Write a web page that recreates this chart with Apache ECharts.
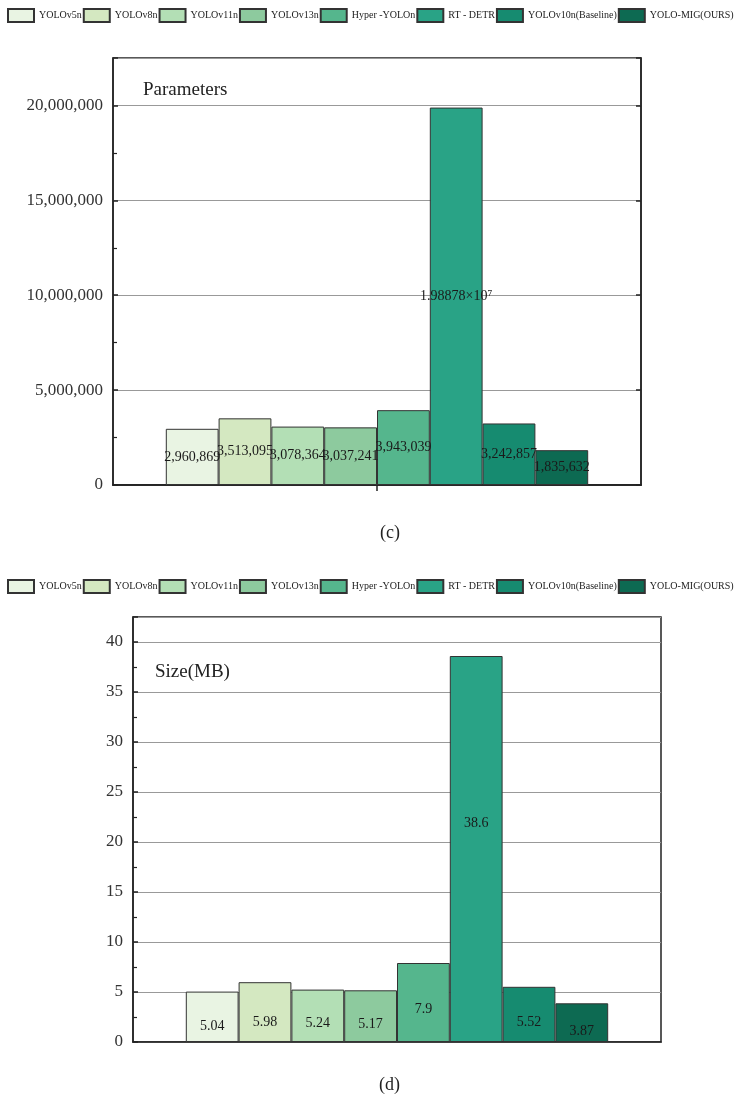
<!DOCTYPE html>
<html>
<head>
<meta charset="utf-8">
<script src="https://cdn.jsdelivr.net/npm/echarts@6/dist/echarts.min.js"></script>
<style>
  html, body { margin: 0; padding: 0; background: #fff; }
  #main { width: 738px; height: 1098px; }
</style>
</head>
<body>
<div id="main"></div>
<script>
const models = ['YOLOv5n', 'YOLOv8n', 'YOLOv11n', 'YOLOv13n', 'Hyper -YOLOn', 'RT - DETR', 'YOLOv10n(Baseline)', 'YOLO-MIG(OURS)']
const paramValues = [2960869, 3513095, 3078364, 3037241, 3943039, 19887800, 3242857, 1835632]
const sizeValues = [5.04, 5.98, 5.24, 5.17, 7.9, 38.6, 5.52, 3.87]

const colors = ['#e9f4e3', '#d4e8c1', '#b3dfb5', '#8dca9e', '#55b68d', '#29a386', '#168b70', '#0d6a52']
// small vertical nudges of the (d) labels, as in the figure
const sizeLabelShift = [10, 10, 8, 8, 7, -26, 8, 9]

const serif = '"Liberation Serif", "DejaVu Serif", serif'

function withCommas(v){
    return String(v).replace(/\B(?=(\d{3})+(?!\d))/g, ',')
}

function paramLabel(v){
    if (v >= 1e7) {
        return (v / 1e7).toFixed(5) + '×10⁷'
    }
    return withCommas(v)
}

const chart = echarts.init(document.getElementById('main'), null, { renderer: 'canvas' })

let series = []
models.forEach((name, i) => {
    series.push({
        name: name,
        type: 'bar',
        xAxisIndex: 0,
        yAxisIndex: 0,
        barGap: '0%',
        barCategoryGap: '20%',
        itemStyle: { color: colors[i], borderColor: '#333', borderWidth: 1 },
        label: {
            show: true,
            position: 'inside',
            color: '#1a1a1a',
            fontFamily: serif,
            fontSize: 14,
            formatter: p => paramLabel(p.value)
        },
        data: [paramValues[i]]
    })
})
models.forEach((name, i) => {
    series.push({
        name: name,
        type: 'bar',
        xAxisIndex: 2,
        yAxisIndex: 2,
        barGap: '0%',
        barCategoryGap: '20%',
        itemStyle: { color: colors[i], borderColor: '#333', borderWidth: 1 },
        label: {
            show: true,
            position: 'inside',
            offset: [0, sizeLabelShift[i]],
            color: '#1a1a1a',
            fontFamily: serif,
            fontSize: 14
        },
        data: [sizeValues[i]]
    })
})

const legendBase = {
    data: models,
    left: 7,
    width: 800,
    padding: 0,
    itemWidth: 26,
    itemHeight: 13,
    itemGap: 1,
    icon: 'rect',
    textStyle: { fontFamily: serif, fontSize: 10, color: '#222' }
}

const yBase = {
    type: 'value',
    min: 0,
    axisLine: { show: true, lineStyle: { color: '#222', width: 1.5 } },
    axisTick: { show: true, inside: true, length: 5, lineStyle: { color: '#222', width: 1.5 } },
    minorTick: { show: true, splitNumber: 2, length: 4, lineStyle: { color: '#222', width: 1.2 } },
    splitLine: { show: true, lineStyle: { color: '#999', width: 1 } },
    axisLabel: { showMaxLabel: false, fontFamily: serif, fontSize: 17, color: '#333', margin: 10 }
}

let option = {
    animation: false,
    backgroundColor: '#fff',
    legend: [
        Object.assign({}, legendBase, { top: 8 }),
        Object.assign({}, legendBase, { top: 579 })
    ],
    title: [
        { text: 'Parameters', left: 138, top: 76, textStyle: { fontFamily: serif, fontSize: 19, fontWeight: 'normal', color: '#222' } },
        { text: 'Size(MB)', left: 150, top: 658, textStyle: { fontFamily: serif, fontSize: 19, fontWeight: 'normal', color: '#222' } },
        { text: '(c)', left: 375, top: 519, textStyle: { fontFamily: serif, fontSize: 18, fontWeight: 'normal', color: '#222' } },
        { text: '(d)', left: 374, top: 1071, textStyle: { fontFamily: serif, fontSize: 18, fontWeight: 'normal', color: '#222' } }
    ],
    grid: [
        { left: 113, top: 58, width: 528, height: 427, show: true, borderColor: '#222', borderWidth: 1.5 },
        { left: 133, top: 617, width: 528, height: 425, show: true, borderColor: '#222', borderWidth: 1.5 }
    ],
    xAxis: [
        { type: 'category', gridIndex: 0, data: [''], axisLine: { lineStyle: { color: '#222', width: 1.5 } }, axisTick: { show: false }, axisLabel: { show: false } },
        { type: 'category', gridIndex: 0, position: 'top', data: [''], axisLine: { lineStyle: { color: '#222', width: 1.5 } }, axisTick: { show: true, inside: true, alignWithLabel: true, length: 6, lineStyle: { color: '#222', width: 1.5 } }, axisLabel: { show: false } },
        { type: 'category', gridIndex: 1, data: [''], axisLine: { lineStyle: { color: '#222', width: 1.5 } }, axisTick: { show: false }, axisLabel: { show: false } }
    ],
    yAxis: [
        Object.assign({}, yBase, {
            gridIndex: 0, max: 22500000, interval: 5000000,
            axisLabel: Object.assign({}, yBase.axisLabel, { formatter: v => withCommas(v) })
        }),
        {
            type: 'value', gridIndex: 0, position: 'right', min: 0, max: 22500000, interval: 5000000,
            axisLine: { show: true, lineStyle: { color: '#222', width: 1.5 } },
            axisTick: { show: true, inside: true, length: 5, lineStyle: { color: '#222', width: 1.5 } },
            splitLine: { show: false }, axisLabel: { show: false }
        },
        Object.assign({}, yBase, { gridIndex: 1, max: 42.5, interval: 5 })
    ],
    series: series
}

chart.setOption(option)
</script>
</body>
</html>
